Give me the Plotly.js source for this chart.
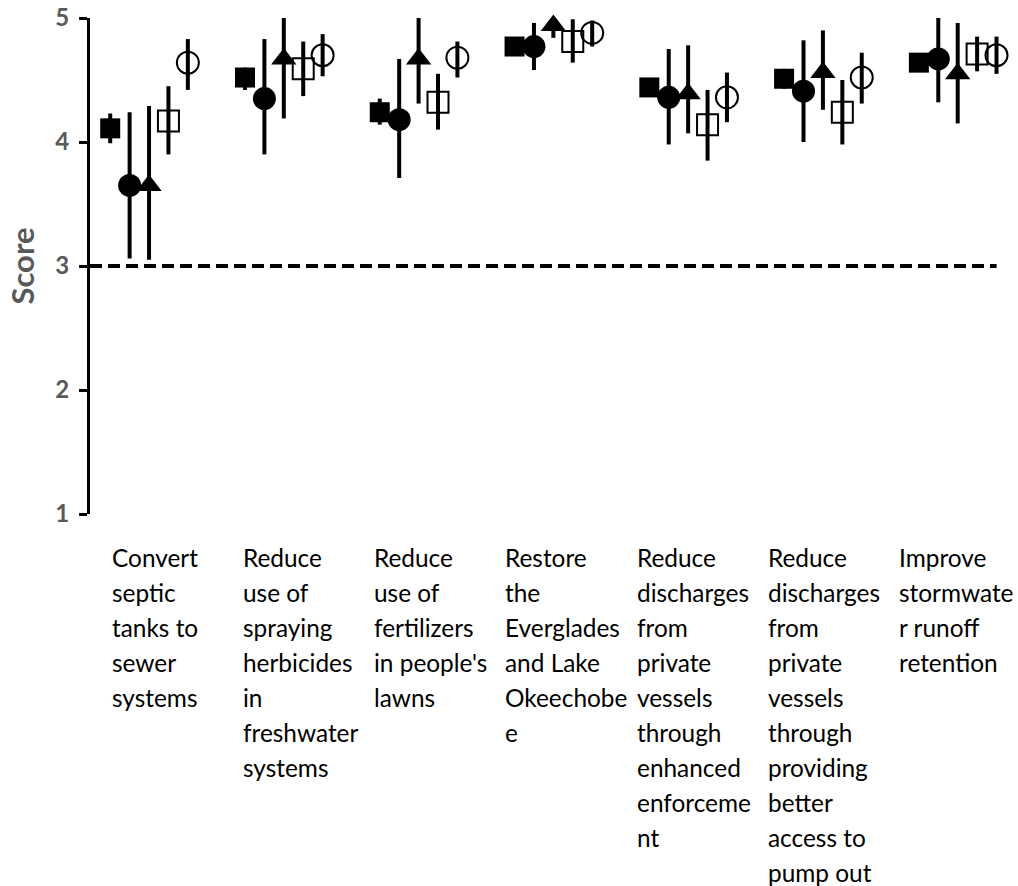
<!DOCTYPE html>
<html>
<head>
<meta charset="utf-8">
<script src="https://cdn.plot.ly/plotly-3.0.1.min.js"></script>
<style>html,body{margin:0;padding:0;background:#fff}#chart{width:1018px;height:886px}</style>
</head>
<body>
<div id="chart"></div>
<script>
// Category labels, one list of wrapped lines per category
const categoryLines = [
  ["Convert", "septic", "tanks to", "sewer", "systems"],
  ["Reduce", "use of", "spraying", "herbicides", "in", "freshwater", "systems"],
  ["Reduce", "use of", "fertilizers", "in people's", "lawns"],
  ["Restore", "the", "Everglades", "and Lake", "Okeechobe", "e"],
  ["Reduce", "discharges", "from", "private", "vessels", "through", "enhanced", "enforceme", "nt"],
  ["Reduce", "discharges", "from", "private", "vessels", "through", "providing", "better", "access to", "pump out"],
  ["Improve", "stormwate", "r runoff", "retention"]
];
const categories = categoryLines.map(l => l.join(" "));

// Series 1: filled square
const s1Mean = [4.11, 4.52, 4.24, 4.77, 4.44, 4.51, 4.64];
const s1Lo   = [3.99, 4.42, 4.14, 4.75, 4.39, 4.43, 4.61];
const s1Hi   = [4.23, 4.60, 4.35, 4.79, 4.49, 4.59, 4.67];
// Series 2: filled circle
const s2Mean = [3.65, 4.35, 4.18, 4.77, 4.36, 4.41, 4.67];
const s2Lo   = [3.06, 3.90, 3.71, 4.58, 3.98, 4.00, 4.32];
const s2Hi   = [4.24, 4.83, 4.67, 4.96, 4.75, 4.82, 5.00];
// Series 3: filled triangle
const s3Mean = [3.65, 4.67, 4.67, 4.94, 4.39, 4.56, 4.55];
const s3Lo   = [3.05, 4.19, 4.31, 4.84, 4.07, 4.26, 4.15];
const s3Hi   = [4.29, 5.00, 5.00, 5.00, 4.78, 4.90, 4.96];
// Series 4: open square
const s4Mean = [4.17, 4.59, 4.32, 4.81, 4.14, 4.24, 4.71];
const s4Lo   = [3.90, 4.37, 4.10, 4.64, 3.85, 3.98, 4.57];
const s4Hi   = [4.45, 4.81, 4.55, 4.99, 4.42, 4.50, 4.85];
// Series 5: open circle
const s5Mean = [4.64, 4.70, 4.68, 4.88, 4.36, 4.52, 4.70];
const s5Lo   = [4.42, 4.53, 4.52, 4.77, 4.16, 4.31, 4.55];
const s5Hi   = [4.83, 4.87, 4.81, 4.98, 4.56, 4.72, 4.85];

const referenceScore = 3;
const yTicks = [1, 2, 3, 4, 5];

const series = [
  {name: "Series 1", mean: s1Mean, lo: s1Lo, hi: s1Hi, symbol: "square", size: 20, lw: 0},
  {name: "Series 2", mean: s2Mean, lo: s2Lo, hi: s2Hi, symbol: "circle", size: 23, lw: 0},
  {name: "Series 3", mean: s3Mean, lo: s3Lo, hi: s3Hi, symbol: "triangle-up", size: 22, lw: 0},
  {name: "Series 4", mean: s4Mean, lo: s4Lo, hi: s4Hi, symbol: "square-open", size: 21, lw: 2},
  {name: "Series 5", mean: s5Mean, lo: s5Lo, hi: s5Hi, symbol: "circle-open", size: 22, lw: 2}
];

const step = 0.144;
const traces = series.map((s, k) => ({
  type: "scatter",
  mode: "markers",
  name: s.name,
  x: categories.map((_, i) => i + (k - 2) * step),
  y: s.mean,
  text: categories,
  cliponaxis: false,
  marker: {symbol: s.symbol, size: s.size, color: "#000", line: {color: "#000", width: s.lw}},
  error_y: {
    type: "data", symmetric: false,
    array: s.hi.map((h, i) => h - s.mean[i]),
    arrayminus: s.lo.map((l, i) => s.mean[i] - l),
    color: "#000", thickness: 4, width: 0
  },
  showlegend: false
}));

const annotations = [];
categoryLines.forEach((lines, i) => {
  lines.forEach((line, j) => {
    annotations.push({
      xref: "paper", yref: "paper",
      x: 0.0215 + i * 0.1415, y: 0,
      xanchor: "left", yanchor: "middle",
      yshift: -43 - 35 * j,
      text: line, showarrow: false,
      font: {family: "Lato, 'Open Sans', sans-serif", size: 24.4, color: "#000"}
    });
  });
});

const layout = {
  width: 1018, height: 886,
  margin: {l: 90, r: 1, t: 18, b: 372},
  paper_bgcolor: "#fff", plot_bgcolor: "#fff",
  showlegend: false,
  xaxis: {range: [-0.438, 6.44], showticklabels: false, showline: false, zeroline: false, showgrid: false, ticks: ""},
  yaxis: {
    range: [1, 5], tickvals: yTicks, ticktext: yTicks.map(String),
    ticks: "outside", ticklen: 8, tickwidth: 3, tickcolor: "#000",
    showline: true, linewidth: 3, linecolor: "#000",
    showgrid: false, zeroline: false,
    ticklabelstandoff: 5,
    tickfont: {family: "Lato, sans-serif", size: 24, color: "#595959", weight: "bold"},
    title: {text: "Score", standoff: 12, font: {family: "Lato, sans-serif", size: 31, color: "#595959", weight: "bold"}}
  },
  shapes: [{
    type: "line", xref: "paper", yref: "y",
    x0: 0, x1: 0.978, y0: referenceScore, y1: referenceScore,
    line: {color: "#000", width: 4, dash: "12px,6px"}
  }],
  annotations: annotations
};

Plotly.newPlot("chart", traces, layout, {displayModeBar: false, staticPlot: true});
</script>
</body>
</html>
